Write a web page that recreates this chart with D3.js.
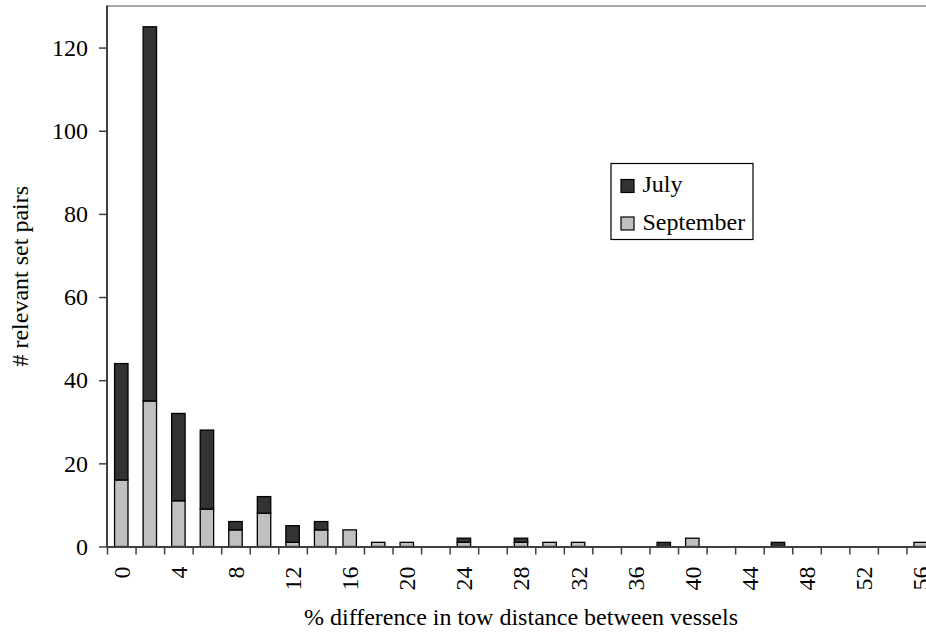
<!DOCTYPE html>
<html>
<head>
<meta charset="utf-8">
<script src="https://cdn.jsdelivr.net/npm/d3@7/dist/d3.min.js"></script>
<style>
  html, body { margin: 0; padding: 0; background: #fff; }
  svg { display: block; }
  text { font-family: "Liberation Serif", "Times New Roman", Times, "DejaVu Serif", serif; fill: #000; }
</style>
</head>
<body>
<script>
// % difference bins (every 2%)
const categories = [0, 2, 4, 6, 8, 10, 12, 14, 16, 18, 20, 22, 24, 26, 28, 30,
                    32, 34, 36, 38, 40, 42, 44, 46, 48, 50, 52, 54, 56];
// Counts of set pairs per bin
const september = [16, 35, 11, 9, 4, 8, 1, 4, 4, 1, 1, 0, 1, 0, 1, 1,
                   1, 0, 0, 0, 2, 0, 0, 0, 0, 0, 0, 0, 1];
const july      = [28, 90, 21, 19, 2, 4, 4, 2, 0, 0, 0, 0, 1, 0, 1, 0,
                   0, 0, 0, 1, 0, 0, 0, 1, 0, 0, 0, 0, 0];
const seriesNames = ["September", "July"];
const yTicks = [0, 20, 40, 60, 80, 100, 120];
const xTickLabels = [0, 4, 8, 12, 16, 20, 24, 28, 32, 36, 40, 44, 48, 52, 56];

const W = 926, H = 634;
const plotLeft = 107, plotTop = 6, plotRight = 935, plotBottom = 546.5;
const FONT = "'Liberation Serif', 'Times New Roman', Times, 'DejaVu Serif', serif";

const svg = d3.select("body").append("svg")
  .attr("width", W).attr("height", H)
  .style("font-family", FONT);

const rows = categories.map((c, i) => ({ cat: c, September: september[i], July: july[i] }));
const stacked = d3.stack().keys(seriesNames)(rows);

const x = d3.scaleBand()
  .domain(categories)
  .range([plotLeft, plotRight])
  .paddingInner(0.53)
  .paddingOuter(0.265);

const xEdges = d3.scaleLinear().domain([0, categories.length]).range([plotLeft, plotRight]);

const y = d3.scaleLinear().domain([0, 130]).range([plotBottom, plotTop]);

const colors = { July: "#333333", September: "#c0c0c0" };

// plot-area top border
svg.append("line")
  .attr("x1", plotLeft).attr("x2", plotRight)
  .attr("y1", plotTop).attr("y2", plotTop)
  .attr("stroke", "#8a8a8a").attr("stroke-width", 1.6);

// bars
svg.append("g").selectAll("g")
  .data(stacked)
  .join("g")
  .attr("fill", d => colors[d.key])
  .selectAll("rect")
  .data(d => d.filter(s => s[1] - s[0] > 0))
  .join("rect")
  .attr("x", d => x(d.data.cat))
  .attr("width", x.bandwidth())
  .attr("y", d => y(d[1]))
  .attr("height", d => y(d[0]) - y(d[1]))
  .attr("stroke", "#000")
  .attr("stroke-width", 1.3);

// y axis
const yAxis = svg.append("g")
  .attr("transform", `translate(${plotLeft},0)`)
  .call(d3.axisLeft(y).tickValues(yTicks).tickSize(8).tickPadding(11).tickSizeOuter(0));
yAxis.select(".domain").remove();
yAxis.append("line")
  .attr("x1", 0).attr("x2", 0).attr("y1", plotTop - 0.5).attr("y2", plotBottom + 1)
  .attr("stroke", "#404040").attr("stroke-width", 2);
yAxis.selectAll(".tick line").attr("stroke", "#404040").attr("stroke-width", 1.5);
yAxis.selectAll(".tick text")
  .attr("font-size", 24)
  .attr("font-family", FONT)
  .attr("fill", "#000");

// x axis: tick marks on category boundaries
const xTicks = svg.append("g")
  .attr("transform", `translate(0,${plotBottom})`)
  .call(d3.axisBottom(xEdges).tickValues(d3.range(0, categories.length + 1))
        .tickSize(8).tickFormat(() => "").tickSizeOuter(0));
xTicks.select(".domain").attr("stroke", "#404040").attr("stroke-width", 2);
xTicks.selectAll(".tick line").attr("stroke", "#404040").attr("stroke-width", 1.5);

// x axis: rotated labels centred on categories
const xLabels = svg.append("g")
  .attr("transform", `translate(0,${plotBottom})`)
  .call(d3.axisBottom(x).tickValues(xTickLabels).tickSize(0).tickSizeOuter(0));
xLabels.select(".domain").remove();
xLabels.selectAll(".tick text")
  .attr("font-size", 24)
  .attr("font-family", FONT)
  .attr("fill", "#000")
  .attr("text-anchor", "end")
  .attr("transform", "translate(0,20) rotate(-90)")
  .attr("x", 0)
  .attr("y", 0)
  .attr("dy", "0.35em");

// axis titles
svg.append("text")
  .attr("x", (plotLeft + plotRight) / 2).attr("y", 625)
  .attr("text-anchor", "middle")
  .attr("font-size", 24)
  .text("% difference in tow distance between vessels");

svg.append("text")
  .attr("transform", `translate(28,${(plotTop + plotBottom) / 2}) rotate(-90)`)
  .attr("text-anchor", "middle")
  .attr("font-size", 24)
  .text("# relevant set pairs");

// legend
const legend = svg.append("g").attr("transform", "translate(611,163.5)");
legend.append("rect")
  .attr("width", 142).attr("height", 76)
  .attr("fill", "#fff").attr("stroke", "#000").attr("stroke-width", 1.2);
["July", "September"].forEach((k, i) => {
  const g = legend.append("g").attr("transform", `translate(10,${16 + i * 37.5})`);
  g.append("rect").attr("width", 13).attr("height", 13)
    .attr("fill", colors[k]).attr("stroke", "#000").attr("stroke-width", 1.2);
  g.append("text").attr("x", 21.5).attr("y", 12.5)
    .attr("font-size", 24).text(k);
});
</script>
</body>
</html>
